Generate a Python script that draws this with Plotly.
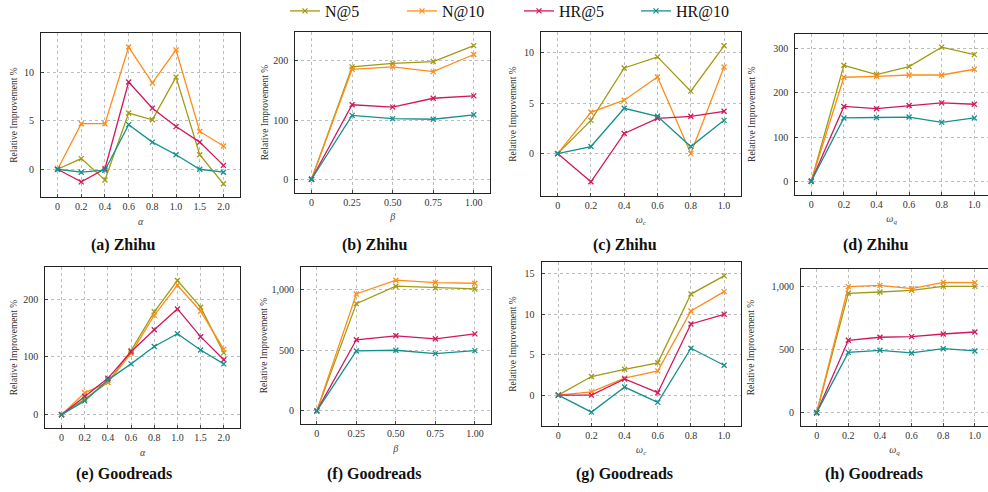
import plotly.graph_objects as go

# ---------------- data ----------------
series_names = ["N@5", "N@10", "HR@5", "HR@10"]
series_colors = ["#a09b12", "#ff8c1a", "#d2175c", "#14918f"]

alpha_x = ["0", "0.2", "0.4", "0.6", "0.8", "1.0", "1.5", "2.0"]
beta_x = [0, 0.25, 0.5, 0.75, 1.0]
beta_ticks = ["0", "0.25", "0.50", "0.75", "1.00"]
omega_x = [0, 0.2, 0.4, 0.6, 0.8, 1.0]
omega_ticks = ["0", "0.2", "0.4", "0.6", "0.8", "1.0"]

# (a) Zhihu, alpha
zh_alpha_n5 = [0, 1.1, -1.1, 5.8, 5.1, 9.5, 1.5, -1.5]
zh_alpha_n10 = [0, 4.7, 4.7, 12.6, 8.9, 12.3, 3.9, 2.4]
zh_alpha_hr5 = [0, -1.3, 0.05, 9.0, 6.3, 4.4, 2.8, 0.4]
zh_alpha_hr10 = [0, -0.3, -0.1, 4.6, 2.8, 1.5, 0.0, -0.3]

# (b) Zhihu, beta
zh_beta_n5 = [0, 190, 196, 199, 226]
zh_beta_n10 = [0, 186, 190, 182, 211]
zh_beta_hr5 = [0, 126, 122, 137, 141]
zh_beta_hr10 = [0, 108, 102.5, 101.5, 109]

# (c) Zhihu, omega_c
zh_wc_n5 = [0, 3.3, 8.5, 9.6, 6.2, 10.7]
zh_wc_n10 = [0, 4.1, 5.3, 7.6, 0.0, 8.6]
zh_wc_hr5 = [0, -2.8, 2.0, 3.5, 3.7, 4.2]
zh_wc_hr10 = [0, 0.7, 4.5, 3.7, 0.7, 3.3]

# (d) Zhihu, omega_q
zh_wq_n5 = [0, 262, 241, 259, 303, 286]
zh_wq_n10 = [0, 235, 237, 240, 240, 253]
zh_wq_hr5 = [0, 169, 164, 171, 177, 174]
zh_wq_hr10 = [0, 143, 144, 145, 133, 143]

# (e) Goodreads, alpha
gr_alpha_n5 = [0, 27, 56, 111, 178, 232, 186, 107]
gr_alpha_n10 = [0, 38, 56, 106, 172, 224, 179, 113]
gr_alpha_hr5 = [0, 32, 63, 109, 147, 183, 135, 95]
gr_alpha_hr10 = [0, 24, 60, 88, 118, 140, 112, 88]

# (f) Goodreads, beta
gr_beta_n5 = [0, 884, 1028, 1014, 1005]
gr_beta_n10 = [0, 964, 1077, 1058, 1052]
gr_beta_hr5 = [0, 586, 619, 594, 635]
gr_beta_hr10 = [0, 494, 500, 472, 497]

# (g) Goodreads, omega_c
gr_wc_n5 = [0, 2.3, 3.2, 4.0, 12.5, 14.75]
gr_wc_n10 = [0, 0.4, 2.1, 3.0, 10.4, 12.8]
gr_wc_hr5 = [0, 0.0, 2.0, 0.3, 8.8, 10.0]
gr_wc_hr10 = [0, -2.1, 1.0, -0.9, 5.8, 3.7]

# (h) Goodreads, omega_q
gr_wq_n5 = [0, 950, 960, 973, 1005, 1005]
gr_wq_n10 = [0, 1003, 1013, 987, 1037, 1034]
gr_wq_hr5 = [0, 576, 600, 605, 626, 642]
gr_wq_hr10 = [0, 480, 496, 475, 509, 491]

panel_titles = ["(a) Zhihu", "(b) Zhihu", "(c) Zhihu", "(d) Zhihu",
                "(e) Goodreads", "(f) Goodreads", "(g) Goodreads", "(h) Goodreads"]
x_titles = ["α", "β", "ω<sub>c</sub>", "ω<sub>q</sub>"] * 2
y_title = "Relative Improvement %"

panels = [
    (alpha_x, None, [zh_alpha_n5, zh_alpha_n10, zh_alpha_hr5, zh_alpha_hr10], 5),
    (beta_x, beta_ticks, [zh_beta_n5, zh_beta_n10, zh_beta_hr5, zh_beta_hr10], 100),
    (omega_x, omega_ticks, [zh_wc_n5, zh_wc_n10, zh_wc_hr5, zh_wc_hr10], 5),
    (omega_x, omega_ticks, [zh_wq_n5, zh_wq_n10, zh_wq_hr5, zh_wq_hr10], 100),
    (alpha_x, None, [gr_alpha_n5, gr_alpha_n10, gr_alpha_hr5, gr_alpha_hr10], 100),
    (beta_x, beta_ticks, [gr_beta_n5, gr_beta_n10, gr_beta_hr5, gr_beta_hr10], 500),
    (omega_x, omega_ticks, [gr_wc_n5, gr_wc_n10, gr_wc_hr5, gr_wc_hr10], 5),
    (omega_x, omega_ticks, [gr_wq_n5, gr_wq_n10, gr_wq_hr5, gr_wq_hr10], 500),
]

# ---------------- layout geometry (pixels) ----------------
W, H = 988, 492
# box: left, right, top, bottom
boxes = [
    (41, 240, 33, 197), (295.3, 490, 32.3, 192.7), (541, 740.7, 32.3, 195.7), (795.3, 988, 33.7, 194.7),
    (45.3, 240, 266.7, 428.3), (301, 490.7, 267, 424), (541.7, 740.7, 262.3, 425.7), (801, 988, 269.3, 425.7),
]
x_ranges = [[-0.7, 7.7], [-0.1, 1.1], [-0.1, 1.1], [-0.098, 1.084],
            [-0.7, 7.7], [-0.1, 1.1], [-0.1, 1.1], [-0.099, 1.083]]
y_ranges = [[-2.86, 14.05], [-22.7, 248.5], [-4.18, 12.04], [-30.3, 333.3],
            [-23.4, 256], [-108, 1186], [-3.78, 16.43], [-103.7, 1140.7]]
title_pos = [(124, 245), (374, 245), (625, 245), (875, 245),
             (124, 474), (374, 474), (624, 474), (874, 474)]
ytitle_standoff = [4.5, 2, 5, 15, 3, 2, 5.7, 15]

font_family = "Liberation Serif"
fig = go.Figure()
annotations = []
layout = {}

for i, (xs, xticks, ys_list, dtick) in enumerate(panels):
    k = "" if i == 0 else str(i + 1)
    for j, ys in enumerate(ys_list):
        fig.add_trace(go.Scatter(
            x=xs, y=ys, mode="lines+markers", name=series_names[j],
            legendgroup=series_names[j], showlegend=(i == 0),
            line=dict(color=series_colors[j], width=1.3),
            marker=dict(symbol="x-thin", size=5, color=series_colors[j],
                        line=dict(color=series_colors[j], width=1.3)),
            xaxis="x" + k, yaxis="y" + k,
        ))
    l, r, t, b = boxes[i]
    xa = dict(
        domain=[l / W, r / W], anchor="y" + k, range=x_ranges[i], automargin=False,
        showline=True, mirror=True, linecolor="#222", linewidth=1.2,
        showgrid=True, gridcolor="#bdbdbd", griddash="3px,3px", gridwidth=0.8,
        zeroline=False, ticks="inside", ticklen=3, tickcolor="#444",
        tickfont=dict(family=font_family, size=10, color="#333"),
        title=dict(text=x_titles[i], standoff=6,
                   font=dict(family=font_family, size=10, color="#444", style="italic")),
    )
    if xticks is None:
        xa.update(type="category")
    else:
        xa.update(tickmode="array", tickvals=xs, ticktext=xticks)
    ya = dict(
        domain=[1 - b / H, 1 - t / H], anchor="x" + k, range=y_ranges[i], automargin=False,
        showline=True, mirror=True, linecolor="#222", linewidth=1.2,
        showgrid=True, gridcolor="#bdbdbd", griddash="3px,3px", gridwidth=0.8,
        zeroline=False, ticks="inside", ticklen=3, tickcolor="#444",
        dtick=dtick, tick0=0, tickformat=",d", ticklabelstandoff=4,
        tickfont=dict(family=font_family, size=10, color="#333"),
        title=dict(text=y_title, font=dict(family=font_family, size=9.5, color="#333"),
                   standoff=ytitle_standoff[i]),
    )
    layout["xaxis" + k] = xa
    layout["yaxis" + k] = ya
    tx, ty = title_pos[i]
    annotations.append(dict(
        text=panel_titles[i], x=tx / W, y=1 - ty / H,
        xref="paper", yref="paper", showarrow=False, xanchor="center", yanchor="middle",
        font=dict(family=font_family, size=16, color="#111", weight="bold"),
    ))

fig.update_layout(
    **layout,
    annotations=annotations,
    width=W, height=H,
    margin=dict(l=0, r=0, t=0, b=0, pad=0, autoexpand=False),
    paper_bgcolor="white", plot_bgcolor="white",
    showlegend=True,
    legend=dict(
        orientation="h", x=285 / W, y=1 - 11 / H, xanchor="left", yanchor="middle",
        font=dict(family=font_family, size=16, color="#111"),
        entrywidth=72, entrywidthmode="pixels",
        bgcolor="rgba(0,0,0,0)", itemclick=False,
    ),
)

fig.write_html(
    "out.html",
    config={"displayModeBar": False},
    post_script="document.body.style.margin='0';document.body.style.overflow='hidden';",
)
